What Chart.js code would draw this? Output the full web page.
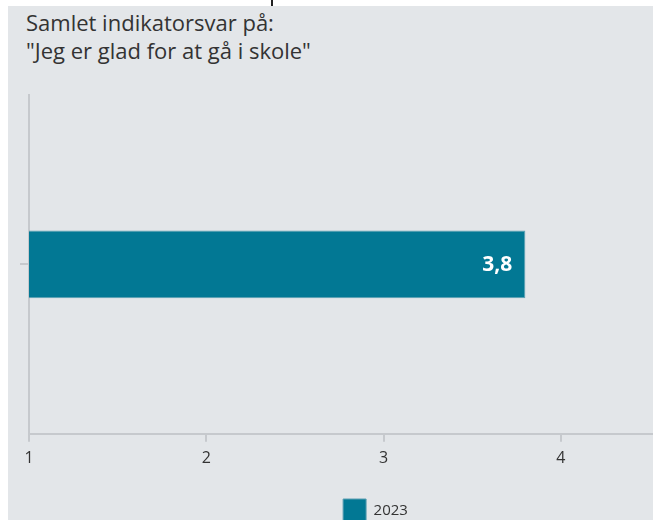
<!DOCTYPE html>
<html>
<head>
<meta charset="utf-8">
<script src="https://cdn.jsdelivr.net/npm/chart.js@4"></script>
<style>
    html, body { margin: 0; padding: 0; background: #ffffff; overflow: hidden; }
    #panel {
        position: absolute; left: 8px; top: 6px; right: 0; bottom: 0;
        background: #e3e6e9;
    }
    #title {
        position: absolute; left: 26px; top: 8px;
        font-family: "Open Sans", sans-serif; font-size: 22px; line-height: 28px;
        color: #333333; white-space: nowrap;
    }
    #mark { position: absolute; left: 271px; top: 0; width: 2px; height: 6px; background: #222; }
    #wrap { position: absolute; left: 0; top: 0; width: 653px; height: 520px; }
</style>
</head>
<body>
<div id="panel"></div>
<div id="mark"></div>
<div id="title">Samlet indikatorsvar på:<br>"Jeg er glad for at gå i skole"</div>
<div id="wrap"><canvas id="chart" width="653" height="520"></canvas></div>
<script>
// Chart data
const categories = ['Jeg er glad for at gå i skole'];
const seriesName = '2023';
const values = [3.8];
const tickValues = [1, 2, 3, 4];

const barColor = '#027894';
const axisColor = '#c6c9cd';
const textColor = '#333333';

// Writes the value inside the right end of each bar
const valueLabels = {
    id: 'valueLabels',
    afterDatasetsDraw(chart) {
        const ctx = chart.ctx;
        const meta = chart.getDatasetMeta(0);
        ctx.save();
        ctx.fillStyle = '#ffffff';
        ctx.font = 'bold 21px "Open Sans", sans-serif';
        ctx.textAlign = 'right';
        ctx.textBaseline = 'middle';
        meta.data.forEach((bar, i) => {
            const text = values[i].toFixed(1).replace('.', ',');
            ctx.fillText(text, bar.x - 13, bar.y + 1);
        });
        ctx.restore();
    }
};

// The legend sits a little right of the centre
const shiftLegend = {
    id: 'shiftLegend',
    afterLayout(chart) {
        chart.legend.left += 34;
        chart.legend.right += 34;
    }
};

new Chart(document.getElementById('chart'), {
    type: 'bar',
    data: {
        labels: categories,
        datasets: [{
            label: seriesName,
            data: values,
            backgroundColor: barColor,
            borderColor: '#5b9fb2',
            borderWidth: 1,
            borderSkipped: 'left',
            barPercentage: 0.2,
            categoryPercentage: 1
        }]
    },
    options: {
        indexAxis: 'y',
        responsive: false,
        animation: false,
        layout: { padding: { left: 20, top: 95, right: -10, bottom: -12 } },
        scales: {
            x: {
                min: 1,
                max: 4.52,
                afterBuildTicks: axis => {
                    axis.ticks = tickValues.map(v => ({ value: v }));
                },
                afterFit: axis => {
                    axis.height += 16;
                },
                grid: {
                    drawOnChartArea: false,
                    drawTicks: true,
                    tickLength: 8,
                    color: axisColor,
                    lineWidth: 2
                },
                border: { color: axisColor, width: 2 },
                ticks: {
                    color: textColor,
                    padding: 7,
                    font: { family: '"Open Sans", sans-serif', size: 16 }
                }
            },
            y: {
                grid: {
                    offset: false,
                    drawOnChartArea: false,
                    drawTicks: true,
                    tickLength: 9,
                    color: axisColor,
                    lineWidth: 2
                },
                border: { color: axisColor, width: 2 },
                ticks: { display: false }
            }
        },
        plugins: {
            tooltip: { enabled: false },
            legend: {
                position: 'bottom',
                labels: {
                    boxWidth: 23,
                    boxHeight: 23,
                    color: textColor,
                    padding: 8,
                    font: { family: '"Open Sans", sans-serif', size: 15 }
                }
            }
        }
    },
    plugins: [valueLabels, shiftLegend]
});
</script>
</body>
</html>
